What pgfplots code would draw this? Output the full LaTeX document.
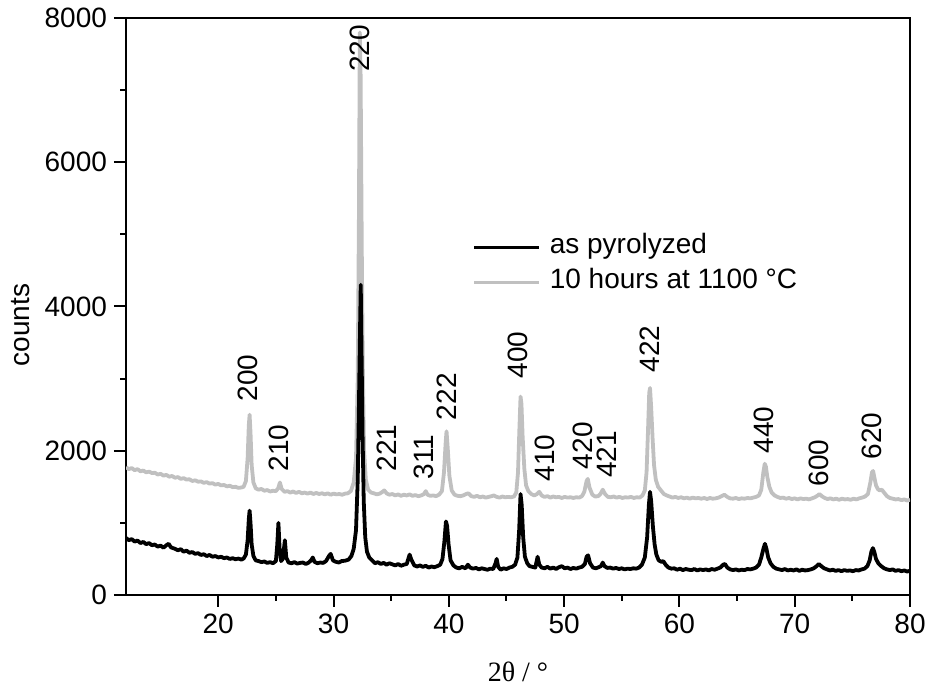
\documentclass[border=0pt]{standalone}
\usepackage{fontspec}
\setmainfont{Liberation Sans}
\newfontfamily\serifface{Liberation Serif}
\usepackage{pgfplots}
\pgfplotsset{compat=1.18}

\definecolor{annealed}{RGB}{192,192,192}

\begin{document}
\begin{tikzpicture}
\begin{axis}[
  scale only axis,
  width=392pt, height=288.5pt,
  xmin=12, xmax=80, ymin=0, ymax=8000,
  xtick={20,30,...,80}, minor x tick num=1,
  ytick={0,2000,...,8000}, minor y tick num=1,
  xtick pos=left, ytick pos=left,
  tick align=outside,
  major tick length=6pt, minor tick length=3pt,
  every tick/.style={black, line width=1pt},
  axis line style={line width=1pt},
  /pgf/number format/assume math mode=true,
  /pgf/number format/set thousands separator={},
  ticklabel style={font=\fontsize{14}{16}\selectfont},
  xlabel={\serifface 2θ / °},
  xlabel style={at={(rel axis cs:0.5,0)}, anchor=center, yshift=-38.5pt,
    font=\fontsize{14}{16}\selectfont},
  ylabel={counts},
  ylabel style={at={(rel axis cs:0,0.468)}, anchor=center, yshift=52.5pt,
    font=\fontsize{14}{16}\selectfont},
  legend style={at={(rel axis cs:0.4426,0.632)}, anchor=north west,
    draw=none, fill=none, inner sep=0pt, outer sep=0pt,
    column sep=4.5pt, row sep=0.5pt,
    font=\fontsize{14}{16}\selectfont,
    nodes={inner sep=0pt, text height=11.5pt, text depth=5.5pt}},
  legend cell align=left,
  legend image code/.code={\draw[#1] (0pt,0pt) -- (32.5pt,0pt);},
]
\coordinate (ll) at (rel axis cs:0,0);
\coordinate (ur) at (rel axis cs:1,1);

\addlegendimage{black, line width=1.4pt}
\addlegendentry{as pyrolyzed}
\addlegendimage{annealed, line width=1.4pt}
\addlegendentry{10 hours at 1100 °C}

% annealed sample, 10 h at 1100 C
\addplot[annealed, line width=1.9pt, line join=round, forget plot] coordinates {
(12.00,1770)(12.25,1745)(12.50,1760)(12.75,1730)(13.00,1745)(13.25,1715)(13.50,1725)(13.75,1700)
(14.00,1710)(14.25,1690)(14.50,1695)(14.75,1670)(15.00,1680)(15.25,1655)(15.50,1665)(15.75,1640)
(16.00,1650)(16.25,1625)(16.50,1635)(16.75,1610)(17.00,1620)(17.25,1600)(17.50,1605)(17.75,1580)
(18.00,1590)(18.25,1570)(18.50,1575)(18.75,1555)(19.00,1565)(19.25,1545)(19.50,1550)(19.75,1530)
(20.00,1540)(20.25,1520)(20.50,1525)(20.75,1505)(21.00,1515)(21.25,1495)(21.50,1500)(21.75,1485)
(22.00,1490)(22.20,1500)(22.40,1580)(22.55,1900)(22.65,2350)(22.72,2500)(22.80,2250)(22.90,1800)
(23.05,1560)(23.25,1480)(23.50,1460)(23.75,1470)(24.00,1445)(24.25,1455)(24.50,1435)(24.75,1445)
(25.00,1440)(25.20,1480)(25.35,1560)(25.50,1470)(25.75,1430)(26.00,1440)(26.25,1420)(26.50,1435)
(26.75,1415)(27.00,1430)(27.25,1410)(27.50,1420)(27.75,1405)(28.00,1420)(28.25,1400)(28.50,1415)
(28.75,1400)(29.00,1410)(29.25,1395)(29.50,1410)(29.75,1390)(30.00,1405)(30.25,1395)(30.50,1400)
(30.75,1390)(31.00,1405)(31.25,1410)(31.50,1440)(31.75,1560)(31.95,1900)(32.10,3000)(32.20,5200)
(32.28,7800)(32.35,7200)(32.45,4800)(32.55,3000)(32.65,2000)(32.80,1600)(33.00,1460)(33.25,1420)
(33.50,1410)(33.75,1395)(34.00,1405)(34.25,1430)(34.40,1450)(34.60,1410)(34.85,1390)(35.10,1400)
(35.35,1380)(35.60,1395)(35.85,1375)(36.10,1390)(36.35,1380)(36.60,1395)(36.85,1375)(37.10,1385)
(37.35,1370)(37.60,1380)(37.85,1400)(38.00,1440)(38.15,1390)(38.40,1375)(38.65,1380)(38.90,1370)
(39.15,1390)(39.40,1440)(39.58,1700)(39.72,2100)(39.80,2270)(39.90,2050)(40.05,1650)(40.25,1450)
(40.50,1390)(40.75,1375)(41.00,1370)(41.25,1380)(41.50,1400)(41.70,1410)(41.95,1370)(42.20,1360)
(42.45,1375)(42.70,1355)(42.95,1365)(43.20,1350)(43.45,1360)(43.70,1370)(43.90,1380)(44.15,1360)
(44.40,1350)(44.65,1365)(44.90,1355)(45.15,1360)(45.40,1355)(45.65,1365)(45.85,1420)(46.00,1700)
(46.12,2300)(46.22,2750)(46.30,2650)(46.40,2200)(46.55,1750)(46.70,1520)(46.90,1440)(47.15,1400)
(47.40,1380)(47.65,1400)(47.85,1430)(48.05,1380)(48.30,1360)(48.55,1370)(48.80,1350)(49.05,1365)
(49.30,1355)(49.55,1360)(49.80,1345)(50.05,1360)(50.30,1350)(50.55,1355)(50.80,1345)(51.05,1355)
(51.30,1350)(51.55,1370)(51.75,1430)(51.95,1580)(52.05,1610)(52.20,1490)(52.45,1390)(52.70,1365)
(52.95,1370)(53.15,1400)(53.35,1460)(53.55,1400)(53.80,1360)(54.05,1355)(54.30,1365)(54.55,1350)
(54.80,1360)(55.05,1345)(55.30,1355)(55.55,1350)(55.80,1360)(56.05,1345)(56.30,1355)(56.55,1350)
(56.80,1380)(57.00,1450)(57.15,1700)(57.28,2300)(57.38,2800)(57.45,2870)(57.55,2600)(57.68,2150)
(57.80,1800)(57.95,1600)(58.15,1500)(58.40,1450)(58.65,1400)(58.90,1380)(59.15,1365)(59.40,1350)
(59.65,1360)(59.90,1345)(60.15,1355)(60.40,1340)(60.65,1350)(60.90,1335)(61.15,1350)(61.40,1340)
(61.65,1345)(61.90,1335)(62.15,1345)(62.40,1330)(62.65,1345)(62.90,1335)(63.15,1340)(63.40,1350)
(63.65,1370)(63.90,1390)(64.15,1360)(64.40,1340)(64.65,1335)(64.90,1345)(65.15,1330)(65.40,1340)
(65.65,1335)(65.90,1345)(66.15,1340)(66.40,1350)(66.65,1360)(66.90,1380)(67.10,1460)(67.28,1700)
(67.40,1820)(67.50,1780)(67.62,1640)(67.80,1500)(68.00,1420)(68.25,1380)(68.50,1360)(68.75,1345)
(69.00,1350)(69.25,1335)(69.50,1345)(69.75,1330)(70.00,1340)(70.25,1325)(70.50,1340)(70.75,1330)
(71.00,1335)(71.25,1325)(71.50,1340)(71.75,1355)(72.00,1380)(72.15,1400)(72.35,1370)(72.60,1345)
(72.85,1330)(73.10,1340)(73.35,1325)(73.60,1335)(73.85,1320)(74.10,1335)(74.35,1325)(74.60,1330)
(74.85,1320)(75.10,1335)(75.35,1325)(75.60,1340)(75.85,1350)(76.10,1365)(76.35,1400)(76.55,1550)
(76.70,1700)(76.80,1720)(76.92,1620)(77.05,1520)(77.20,1470)(77.35,1450)(77.55,1460)(77.75,1420)
(78.00,1370)(78.25,1345)(78.50,1335)(78.75,1325)(79.00,1330)(79.25,1315)(79.50,1325)(79.75,1310)
(80.00,1320)
};

% as-pyrolyzed sample
\addplot[black, line width=1.9pt, line join=round, forget plot] coordinates {
(12.00,790)(12.25,760)(12.50,775)(12.75,740)(13.00,755)(13.25,720)(13.50,735)(13.75,705)
(14.00,720)(14.25,690)(14.50,700)(14.75,670)(15.00,685)(15.25,655)(15.50,690)(15.70,710)
(15.90,660)(16.25,640)(16.50,620)(16.75,635)(17.00,600)(17.25,615)(17.50,585)(17.75,595)
(18.00,570)(18.25,580)(18.50,555)(18.75,565)(19.00,540)(19.25,555)(19.50,530)(19.75,540)
(20.00,520)(20.25,530)(20.50,510)(20.75,520)(21.00,500)(21.25,510)(21.50,495)(21.75,505)
(22.00,490)(22.20,505)(22.40,560)(22.55,760)(22.65,1050)(22.72,1170)(22.80,1000)(22.90,700)
(23.05,540)(23.25,480)(23.50,470)(23.75,455)(24.00,465)(24.25,445)(24.50,455)(24.75,440)
(25.00,470)(25.12,700)(25.22,1000)(25.32,650)(25.45,470)(25.60,500)(25.78,760)(25.90,520)
(26.10,450)(26.35,440)(26.60,455)(26.85,435)(27.10,445)(27.35,450)(27.60,430)(27.85,450)
(28.05,480)(28.20,520)(28.35,460)(28.60,440)(28.85,450)(29.10,445)(29.35,470)(29.60,540)
(29.75,570)(29.95,480)(30.20,460)(30.45,450)(30.70,470)(31.00,475)(31.30,490)(31.55,540)
(31.75,640)(31.95,900)(32.10,1600)(32.20,2600)(32.30,3700)(32.36,4300)(32.42,3500)(32.52,2200)
(32.62,1300)(32.75,800)(32.90,600)(33.10,520)(33.35,480)(33.60,440)(33.85,455)(34.10,430)
(34.35,445)(34.60,420)(34.85,440)(35.10,425)(35.35,410)(35.60,430)(35.85,405)(36.10,420)
(36.35,430)(36.60,560)(36.75,490)(37.00,410)(37.25,395)(37.50,410)(37.75,390)(38.00,405)
(38.25,380)(38.50,395)(38.75,385)(39.00,400)(39.25,420)(39.45,500)(39.62,750)(39.75,1020)
(39.85,960)(39.98,700)(40.15,480)(40.40,410)(40.65,380)(40.90,370)(41.15,390)(41.45,370)
(41.65,420)(41.85,380)(42.10,365)(42.35,375)(42.60,355)(42.85,370)(43.10,360)(43.35,350)
(43.60,365)(43.85,360)(44.05,440)(44.15,500)(44.28,390)(44.50,350)(44.75,370)(45.00,360)
(45.25,380)(45.50,390)(45.75,420)(45.95,520)(46.10,900)(46.22,1400)(46.32,1250)(46.45,800)
(46.60,530)(46.80,440)(47.00,400)(47.25,390)(47.50,380)(47.70,530)(47.85,420)(48.05,380)
(48.30,370)(48.55,390)(48.80,365)(49.05,380)(49.30,360)(49.55,385)(49.80,400)(50.05,370)
(50.30,380)(50.55,360)(50.80,375)(51.05,365)(51.30,380)(51.55,390)(51.80,430)(51.95,530)
(52.08,550)(52.25,440)(52.50,380)(52.75,370)(53.00,385)(53.20,400)(53.35,450)(53.50,400)
(53.75,375)(54.00,380)(54.25,365)(54.50,375)(54.75,360)(55.00,370)(55.25,355)(55.50,365)
(55.75,360)(56.00,370)(56.25,365)(56.50,380)(56.75,420)(57.00,520)(57.20,800)(57.35,1250)
(57.45,1430)(57.55,1300)(57.70,950)(57.85,700)(58.00,560)(58.20,480)(58.45,460)(58.60,470)
(58.80,420)(59.05,380)(59.30,365)(59.55,370)(59.80,350)(60.05,365)(60.30,345)(60.55,360)
(60.80,350)(61.05,345)(61.30,360)(61.55,340)(61.80,355)(62.05,345)(62.30,355)(62.55,340)
(62.80,360)(63.05,350)(63.30,365)(63.55,380)(63.80,420)(63.95,430)(64.15,380)(64.40,355)
(64.65,345)(64.90,355)(65.15,340)(65.40,350)(65.65,345)(65.90,360)(66.15,355)(66.40,365)
(66.65,380)(66.90,420)(67.10,520)(67.30,650)(67.42,710)(67.55,640)(67.70,520)(67.90,440)
(68.15,390)(68.40,365)(68.65,355)(68.90,345)(69.15,360)(69.40,340)(69.65,350)(69.90,340)
(70.15,355)(70.40,335)(70.65,350)(70.90,340)(71.15,345)(71.40,355)(71.65,370)(71.90,400)
(72.10,430)(72.30,400)(72.55,370)(72.80,355)(73.05,340)(73.30,350)(73.55,335)(73.80,345)
(74.05,330)(74.30,345)(74.55,335)(74.80,340)(75.05,330)(75.30,345)(75.55,340)(75.80,355)
(76.05,365)(76.30,400)(76.50,480)(76.65,600)(76.78,650)(76.90,600)(77.05,500)(77.25,440)
(77.50,400)(77.75,370)(78.00,355)(78.25,345)(78.50,355)(78.75,335)(79.00,345)(79.25,330)
(79.50,340)(79.75,325)(80.00,335)
};

% reflection indices
\begin{scope}[every node/.style={rotate=90, anchor=west, inner sep=0pt,
    font=\fontsize{14}{16}\selectfont}]
\node at (axis cs:22.6,2680) {200};
\node at (axis cs:25.3,1710) {210};
\node at (axis cs:32.3,7250) {220};
\node at (axis cs:34.6,1710) {221};
\node at (axis cs:37.8,1600) {311};
\node at (axis cs:39.8,2420) {222};
\node at (axis cs:46.0,3000) {400};
\node at (axis cs:48.3,1570) {410};
\node at (axis cs:51.65,1740) {420};
\node at (axis cs:53.7,1620) {421};
\node at (axis cs:57.4,3080) {422};
\node at (axis cs:67.3,1960) {440};
\node at (axis cs:72.1,1500) {600};
\node at (axis cs:76.7,1875) {620};
\end{scope}
\end{axis}
\pgfresetboundingbox
\path ([shift={(-63pt,-46.5pt)}]ll) rectangle ([shift={(8.5pt,9pt)}]ur);
\end{tikzpicture}
\end{document}
